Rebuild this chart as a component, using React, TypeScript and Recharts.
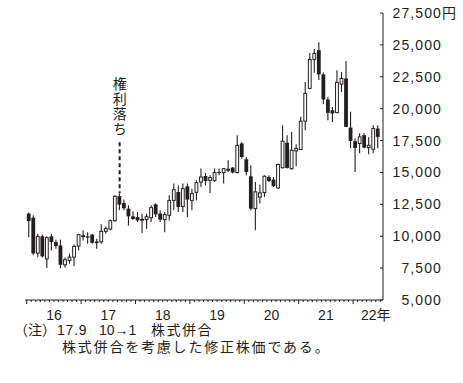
import React from 'react';
import { ComposedChart, Bar, XAxis, YAxis, ReferenceLine } from 'recharts';

// monthly candles, Jan 2016 .. Jun 2022 (index 0 = 16.1)
const opens = [
  11770, 11450, 8680, 9990, 8220, 9990, 9540, 9280, 7760, 8100, 8360, 9230,
  10070, 9990, 10120, 9590, 9560, 10380, 10560, 11220, 13150, 12600, 12160, 11560,
  11500, 11280, 11300, 11450, 12500, 11770, 11300, 11640, 12810, 13470, 12340, 13910,
  12810, 13440, 14250, 14720, 14380, 14380, 15040, 14990, 15170, 15380, 14990, 17270,
  16030, 14700, 12160, 13070, 13420, 14640, 14440, 13780, 15370, 17330, 15290, 16690,
  16800, 19020, 21590, 23860, 24590, 22690, 20720, 19880, 19690, 21920, 22370, 18520,
  17450, 17270, 17920, 16950, 16820, 18440,
];
const highs = [
  11850, 11640, 10200, 10140, 9990, 10200, 9730, 9730, 8340, 8630, 9360, 10200,
  10460, 10320, 10200, 9810, 10930, 10770, 11320, 13210, 13340, 12870, 12420, 11950,
  11900, 11770, 11770, 12420, 12560, 12030, 11900, 13210, 14130, 13990, 14130, 14130,
  13730, 14380, 15300, 14960, 14780, 15300, 15300, 15330, 15960, 15430, 17920, 17390,
  16210, 15560, 14250, 14030, 14780, 14780, 14640, 15700, 18700, 17920, 18180, 17210,
  19360, 22100, 24360, 24670, 25200, 22840, 20930, 20140, 23020, 22870, 23730, 19750,
  17660, 18080, 18080, 17760, 18700, 18700,
];
const lows = [
  9910, 8500, 8360, 8340, 7500, 8890, 9020, 7500, 7550, 7840, 7650, 8890,
  9670, 9410, 9410, 9020, 9410, 10200, 10460, 11130, 12030, 12030, 10850, 11300,
  11110, 10250, 10590, 11110, 11500, 11110, 10320, 11240, 12030, 11900, 11900, 11500,
  12030, 12810, 13860, 13990, 13390, 14250, 14780, 14130, 15040, 14910, 14910, 16090,
  14780, 12030, 10460, 12560, 13070, 14250, 13860, 13730, 15300, 15300, 15230, 15480,
  16780, 18310, 21530, 22810, 22240, 20350, 19100, 18960, 19650, 21300, 18550, 16900,
  15040, 16510, 16900, 16430, 16510, 16900,
];
const closes = [
  11190, 8650, 9990, 8420, 9880, 9540, 9230, 7760, 8160, 8360, 9200, 10120,
  9930, 9890, 9490, 9460, 10380, 10590, 11220, 13130, 12480, 12190, 11560, 11350,
  11240, 11330, 11530, 12240, 11710, 11300, 11690, 12810, 13650, 12290, 13730, 12870,
  13340, 14200, 14640, 14330, 14600, 14990, 14960, 15300, 15250, 14990, 17130, 16210,
  15040, 12160, 13480, 13400, 14700, 14330, 13930, 15620, 17450, 15350, 16740, 16870,
  19020, 21190, 23860, 24330, 22690, 20720, 19670, 19620, 22060, 22370, 18570, 17470,
  16920, 17790, 16950, 17130, 18440, 17790,
];

const yearLabels = ['16', '17', '18', '19', '20', '21', '22年'];
const yearLabelAt = [5.5, 17.5, 29.5, 41.5, 53.5, 65.5, 76.5];
const priceTicks = [5000, 7500, 10000, 12500, 15000, 17500, 20000, 22500, 25000, 27500];

// 17.9 ex-rights marker
const exRightsIndex = 20;
const exRightsText = '権利落ち';
const exRightsFrom = 17370;
const exRightsTo = 13360;

const INK = '#231f20';
const LATIN = '"Liberation Sans", Arial, "Noto Sans CJK JP", sans-serif';
const CJK = '"Noto Sans CJK JP", sans-serif';

const data = opens.map((o, i) => ({
  idx: i,
  open: o,
  high: highs[i],
  low: lows[i],
  close: closes[i],
  range: [lows[i], highs[i]],
}));

// month boundaries
const monthTicks = Array.from({ length: opens.length + 1 }, (_, k) => k - 0.5);

function Candle(props: any) {
  const { x, y, width, height, payload } = props;
  if (x == null || !payload) return null;
  const top = Math.min(y, y + height);
  const bottom = Math.max(y, y + height);
  const { open, close, high, low } = payload;
  const k = (bottom - top) / (high - low);
  const py = (v: number) => top + (high - v) * k;
  const cx = x + width / 2;
  const bTop = py(Math.max(open, close));
  const bh = Math.max(py(Math.min(open, close)) - bTop, 1);
  return (
    <g>
      <line x1={cx} x2={cx} y1={top} y2={bottom} stroke={INK} strokeWidth={1.1} />
      {close >= open ? (
        <rect x={cx - 1.4} y={bTop} width={2.8} height={bh} fill="#fff" stroke={INK} strokeWidth={1} />
      ) : (
        <rect x={cx - 1.9} y={bTop} width={3.8} height={bh} fill={INK} />
      )}
    </g>
  );
}

function MonthTick({ x, y, payload }: any) {
  const v = payload.value;
  const major = (v + 0.5) % 12 === 0;
  const li = yearLabelAt.indexOf(v);
  return (
    <g>
      <line x1={x} x2={x} y1={y} y2={y + (major ? 4 : 2)} stroke={INK} strokeWidth={1} />
      {li >= 0 && (
        <text x={x} y={y + 20} textAnchor="middle" fontSize={14} fill={INK} fontFamily={LATIN}>
          {yearLabels[li]}
        </text>
      )}
    </g>
  );
}

function PriceTick({ x, y, payload }: any) {
  const v = payload.value;
  return (
    <g>
      <line x1={x - 3} x2={x} y1={y} y2={y} stroke={INK} strokeWidth={1} />
      <text x={x + 59} y={y + 5} textAnchor="end" fontSize={14} letterSpacing={1.1} fill={INK} fontFamily={LATIN}>
        {v.toLocaleString('en-US')}
      </text>
      {v === priceTicks[priceTicks.length - 1] && (
        <text x={x + 59} y={y + 5} fontSize={14} fill={INK} fontFamily={CJK}>
          円
        </text>
      )}
    </g>
  );
}

function ExRightsLabel({ viewBox }: any) {
  if (!viewBox) return null;
  return (
    <text
      x={viewBox.x}
      y={viewBox.y - 66}
      fontSize={14}
      letterSpacing={1}
      fill={INK}
      fontFamily={CJK}
      style={{ writingMode: 'vertical-rl', textOrientation: 'upright' }}
    >
      {exRightsText}
    </text>
  );
}

const noteStyle: React.CSSProperties = {
  position: 'absolute',
  fontSize: 14,
  lineHeight: '14px',
  color: INK,
  fontFamily: LATIN,
  whiteSpace: 'nowrap',
};

export default function App() {
  return (
    <div style={{ position: 'absolute', left: 0, top: 0, width: 463, height: 383, background: '#fff' }}>
      <ComposedChart width={463} height={383} data={data} margin={{ top: 13, right: 0, bottom: 53, left: 25 }}>
        <XAxis
          type="number"
          dataKey="idx"
          domain={[-0.88, 78.1]}
          allowDataOverflow
          ticks={monthTicks}
          interval={0}
          height={30}
          tickLine={false}
          tickSize={0}
          tickMargin={0}
          axisLine={{ stroke: INK, strokeWidth: 1 }}
          tick={<MonthTick />}
        />
        <YAxis
          orientation="right"
          type="number"
          domain={[5000, 27500]}
          ticks={priceTicks}
          interval={0}
          width={80}
          tickLine={false}
          tickSize={0}
          tickMargin={0}
          axisLine={{ stroke: INK, strokeWidth: 1 }}
          tick={<PriceTick />}
        />
        <ReferenceLine
          segment={[
            { x: exRightsIndex, y: exRightsFrom },
            { x: exRightsIndex, y: exRightsTo },
          ]}
          stroke={INK}
          strokeWidth={2}
          strokeDasharray="4 3"
          label={<ExRightsLabel />}
        />
        <Bar dataKey="range" barSize={4} shape={<Candle />} isAnimationActive={false} />
      </ComposedChart>
      <div style={{ ...noteStyle, left: 14, top: 323 }}>（注）</div>
      <div style={{ ...noteStyle, left: 57, top: 323, letterSpacing: 0.8 }}>17.9</div>
      <div style={{ ...noteStyle, left: 99, top: 323 }}>10→1</div>
      <div style={{ ...noteStyle, left: 151, top: 323, letterSpacing: 1.5 }}>株式併合</div>
      <div style={{ ...noteStyle, left: 62, top: 340, letterSpacing: 1.8 }}>株式併合を考慮した修正株価である。</div>
    </div>
  );
}
